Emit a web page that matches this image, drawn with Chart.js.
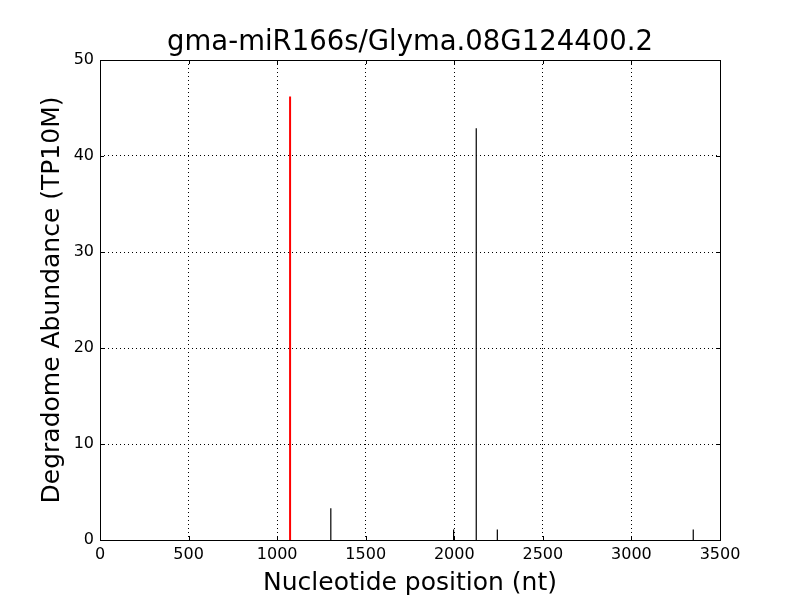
<!DOCTYPE html>
<html>
<head>
<meta charset="utf-8">
<script src="https://cdn.jsdelivr.net/npm/chart.js@4"></script>
<style>
  body { margin: 0; background: #fff; }
  #wrap { width: 800px; height: 600px; }
</style>
</head>
<body>
<div id="wrap"><canvas id="deg"></canvas></div>
<script>
// cleavage sites (nt) and abundance (TP10M)
const positions = [1303, 1996, 2124, 2243, 3349];
const abundance = [3.3, 1.1, 42.9, 1.1, 1.1];
// miRNA target site
const targetPositions = [1073];
const targetAbundance = [46.2];

const xTicks = [0, 500, 1000, 1500, 2000, 2500, 3000, 3500];
const yTicks = [0, 10, 20, 30, 40, 50];
const chartTitle = 'gma-miR166s/Glyma.08G124400.2';

// one two-point line per spike
function spikes(xs, ys, color) {
    return xs.map((x, i) => ({
        data: [{x: x, y: 0}, {x: x, y: ys[i]}],
        borderColor: color,
        borderWidth: color === 'red' ? 2 : 1.2,
        pointRadius: 0,
        showLine: true,
        fill: false
    }));
}

const datasets = spikes(positions, abundance, 'black')
    .concat(spikes(targetPositions, targetAbundance, 'red'));

// inward tick marks on all four sides + frame + title over the plot area
const innerTicks = {
    id: 'innerTicks',
    afterDraw(chart) {
        const {ctx, chartArea: a, scales} = chart;
        ctx.save();
        ctx.strokeStyle = '#000';
        ctx.lineWidth = 1;
        ctx.beginPath();
        xTicks.forEach(v => {
            const px = Math.round(scales.x.getPixelForValue(v)) + 0.5;
            ctx.moveTo(px, a.bottom); ctx.lineTo(px, a.bottom - 4);
            ctx.moveTo(px, a.top); ctx.lineTo(px, a.top + 4);
        });
        yTicks.forEach(v => {
            const py = Math.round(scales.y.getPixelForValue(v)) + 0.5;
            ctx.moveTo(a.left, py); ctx.lineTo(a.left + 4, py);
            ctx.moveTo(a.right, py); ctx.lineTo(a.right - 4, py);
        });
        ctx.stroke();
        ctx.strokeRect(a.left + 0.5, a.top + 0.5, a.right - a.left, a.bottom - a.top);

        ctx.fillStyle = '#000';
        ctx.font = '27.5px "DejaVu Sans", sans-serif';
        ctx.textAlign = 'center';
        ctx.textBaseline = 'middle';
        ctx.fillText(chartTitle, (a.left + a.right) / 2, 43);
        ctx.restore();
    }
};

Chart.defaults.font.family = '"DejaVu Sans", sans-serif';
Chart.defaults.color = '#000';

new Chart(document.getElementById('deg'), {
    type: 'scatter',
    data: { datasets: datasets },
    options: {
        responsive: true,
        maintainAspectRatio: false,
        animation: false,
        layout: { padding: { top: 60, right: 80, left: 0, bottom: 0 } },
        plugins: {
            legend: { display: false },
            tooltip: { enabled: false },
            title: { display: false }
        },
        scales: {
            x: {
                type: 'linear',
                min: 0, max: 3500,
                afterBuildTicks: s => { s.ticks = xTicks.map(v => ({value: v})); },
                afterFit: s => { s.height = 60; },
                ticks: { font: { size: 16 }, padding: 5, callback: v => String(v) },
                grid: { color: '#000', drawTicks: false },
                border: { display: false, dash: [1, 3] },
                title: { display: true, text: 'Nucleotide position (nt)', font: { size: 25 }, padding: { top: 7, bottom: 2 } }
            },
            y: {
                min: 0, max: 50,
                afterBuildTicks: s => { s.ticks = yTicks.map(v => ({value: v})); },
                afterFit: s => { s.width = 100; },
                ticks: { font: { size: 16 }, padding: 6, callback: v => String(v) },
                grid: { color: '#000', drawTicks: false },
                border: { display: false, dash: [1, 3] },
                title: { display: true, text: 'Degradome Abundance (TP10M)', font: { size: 25 }, padding: { top: 37, bottom: 4 } }
            }
        }
    },
    plugins: [innerTicks]
});
</script>
</body>
</html>
